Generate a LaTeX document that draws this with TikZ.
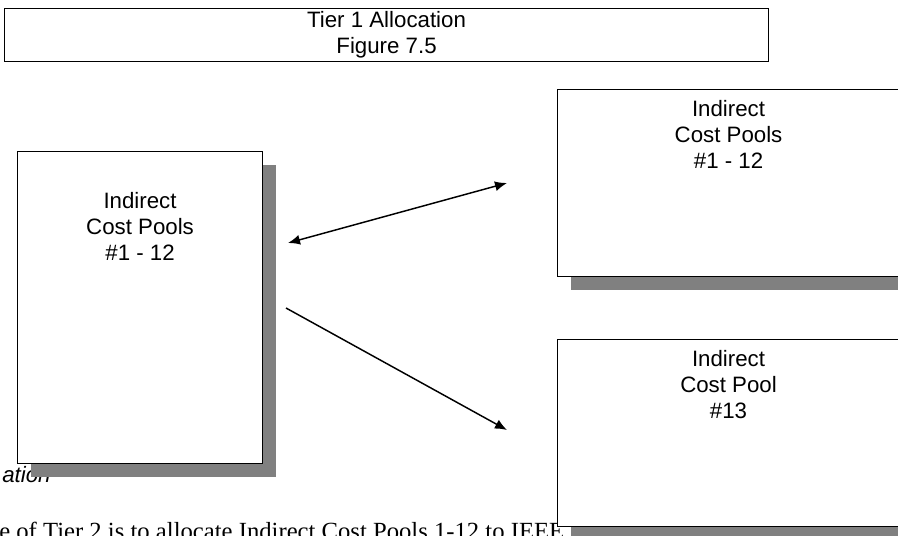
\documentclass[tikz,border=0pt]{standalone}
\usepackage{fontspec}
\setmainfont{Liberation Serif}
\setsansfont{Liberation Sans}
\usetikzlibrary{arrows.meta, positioning, shadows}
\tikzset{%
    pool/.style={%
        draw, fill=white, line width=0.8pt, inner sep=0, anchor=north west,
        drop shadow={shadow xshift=9.75pt, shadow yshift=-9.75pt, fill=black!50, opacity=1},
    },
    pooltext/.style={%
        font=\sffamily\fontsize{16.7}{19.5}\selectfont, align=center, inner sep=0,
    },
    flow/.style={%
        line width=1.1pt,
    },
    >={Latex[length=9pt, width=7.5pt]},
}

\begin{document}
\begin{tikzpicture}[x=0.75pt, y=-0.75pt, every node/.style={inner sep=0}]
    \path[use as bounding box, clip] (0,0) rectangle (898,535);

    % page text behind the figure
    \node[font=\sffamily\itshape\fontsize{16.7}{19.5}\selectfont, anchor=base west] (caption) at (2,482) {ation};
    \node[font=\fontsize{18.5}{21}\selectfont, anchor=north west] (bodyline) at (-1,522) {e of Tier 2 is to allocate Indirect Cost Pools 1-12 to IEEE};

    \node[draw, line width=0.8pt, anchor=north west, minimum width=573pt, minimum height=39.75pt,
        pooltext] (title) at (4,8) {Tier 1 Allocation\\Figure 7.5};

    \node[pool, minimum width=183.75pt, minimum height=234pt] (lpool) at (17,151) {};
    \node[pool, minimum width=256.5pt, minimum height=140.25pt] (rpool) at (557,89) {};
    \node[pool, minimum width=256.5pt, minimum height=140.25pt] (tpool) at (557,339) {};

    \node[pooltext, below=30.75pt of lpool.north] (ltext) {Indirect\\Cost Pools\\\#1 - 12};
    \node[pooltext, below=8.25pt of rpool.north] (rtext) {Indirect\\Cost Pools\\\#1 - 12};
    \node[pooltext, below=8.25pt of tpool.north] (ttext) {Indirect\\Cost Pool\\\#13};

    \coordinate (lup) at (288,243);
    \coordinate (rup) at (507,183);
    \coordinate (ldown) at (286,308);
    \coordinate (rdown) at (507,430);

    \draw[flow, <->] (lup) -- (rup);
    \draw[flow, ->] (ldown) -- (rdown);
\end{tikzpicture}
\end{document}
